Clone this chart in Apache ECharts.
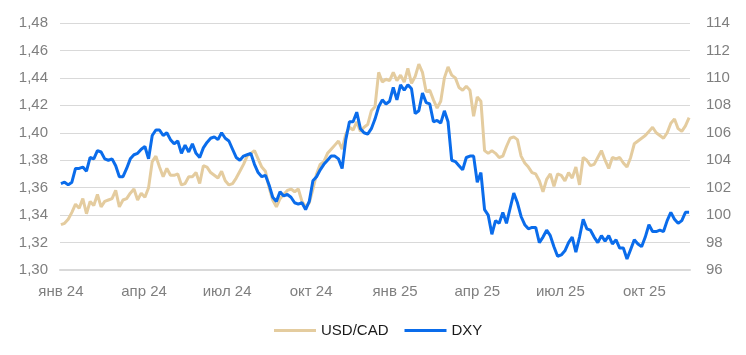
<!DOCTYPE html>
<html><head><meta charset="utf-8">
<script src="https://cdn.jsdelivr.net/npm/echarts@6/dist/echarts.min.js"></script>
<style>html,body{margin:0;padding:0;background:#fff}#c{width:746px;height:355px}</style>
</head><body><div id="c"></div>
<script>
// Observations every 4 days starting 2024-01-01
const seriesStart = [2024, 0, 1];
const stepDays = 4;
const monthNames = ['янв','фев','мар','апр','май','июн','июл','авг','сен','окт','ноя','дек'];
const quarterLabels = ['2024-01-01','2024-04-01','2024-07-01','2024-10-01','2025-01-01','2025-04-01','2025-07-01','2025-10-01'];
const leftTicks = {min: 1.30, max: 1.48, step: 0.02};
const rightTicks = {min: 96, max: 114, step: 2};

const usdcad = [
1.333,1.334,1.337,1.342,1.348,1.345,1.352,1.341,1.350,1.347,
1.355,1.346,1.350,1.351,1.352,1.358,1.346,1.351,1.352,1.356,
1.359,1.351,1.356,1.353,1.360,1.379,1.383,1.375,1.368,1.374,
1.369,1.369,1.370,1.362,1.363,1.368,1.368,1.371,1.363,1.376,
1.375,1.371,1.369,1.367,1.372,1.365,1.362,1.363,1.367,1.372,
1.377,1.383,1.385,1.387,1.381,1.375,1.372,1.360,1.351,1.346,
1.352,1.355,1.358,1.359,1.357,1.359,1.350,1.346,1.349,1.359,
1.370,1.377,1.379,1.385,1.388,1.391,1.394,1.388,1.399,1.404,
1.402,1.408,1.401,1.404,1.406,1.416,1.419,1.444,1.437,1.439,
1.438,1.444,1.438,1.442,1.437,1.447,1.436,1.441,1.450,1.444,
1.430,1.431,1.424,1.418,1.423,1.440,1.448,1.442,1.440,1.433,
1.431,1.434,1.431,1.412,1.426,1.423,1.387,1.385,1.387,1.385,
1.382,1.383,1.390,1.396,1.397,1.395,1.383,1.378,1.375,1.371,
1.370,1.365,1.357,1.366,1.370,1.361,1.370,1.369,1.365,1.371,
1.367,1.375,1.362,1.382,1.380,1.376,1.377,1.382,1.387,1.380,
1.374,1.382,1.381,1.382,1.378,1.375,1.382,1.392,1.394,1.396,
1.398,1.401,1.404,1.400,1.398,1.396,1.400,1.407,1.410,1.403,
1.401,1.405,1.411
];
const dxy = [
102.3,102.4,102.2,102.4,103.4,103.4,103.5,103.2,104.2,104.1,
104.7,104.6,104.1,104.0,104.1,103.6,102.8,102.8,103.4,104.1,
104.4,104.5,104.8,105.0,104.1,105.8,106.2,106.2,105.8,106.0,
105.5,105.2,105.4,104.5,105.1,104.6,105.2,104.5,104.2,104.9,
105.3,105.6,105.7,105.5,106.0,105.6,105.4,104.8,104.2,104.0,
104.3,104.4,104.5,103.7,103.1,102.8,102.9,102.2,101.3,101.0,
101.7,101.4,101.5,101.3,100.9,100.8,100.9,100.4,101.0,102.5,
102.8,103.3,103.7,104.0,104.3,104.3,104.1,103.4,105.5,106.8,
106.8,107.5,106.3,106.0,105.9,106.3,107.0,107.9,108.4,108.1,
108.3,109.3,108.4,109.5,109.1,109.5,109.2,107.4,107.6,108.9,
108.2,108.1,106.8,106.9,106.7,107.6,106.8,104.0,103.9,103.6,
103.3,104.2,104.3,104.3,102.4,103.1,100.4,100.0,98.6,99.6,
99.4,100.2,99.4,100.5,101.6,100.9,99.9,99.3,99.0,99.1,
99.1,98.0,98.4,98.9,98.5,97.7,97.0,97.1,97.4,98.0,
98.4,97.3,98.4,99.7,99.0,98.9,98.4,98.0,98.5,98.1,
98.5,97.9,98.2,97.6,97.6,96.8,97.5,98.2,97.9,97.7,
98.4,99.3,98.8,98.8,98.9,98.8,99.6,100.2,99.7,99.4,
99.6,100.2,100.2
];

function dateAt(i) {
  return new Date(seriesStart[0], seriesStart[1], seriesStart[2] + i * stepDays).getTime();
}
function parseD(s) { const p = s.split('-').map(Number); return new Date(p[0], p[1]-1, p[2]).getTime(); }
const cadData = usdcad.map((v, i) => [dateAt(i), v]);
const dxyData = dxy.map((v, i) => [dateAt(i), v]);
const labelVals = quarterLabels.map(parseD);

const FONT = '"Liberation Sans", Arial, sans-serif';
const chart = echarts.init(document.getElementById('c'), null, {renderer: 'canvas'});
chart.setOption({
  animation: false,
  grid: {left: 60, right: 56, top: 23, bottom: 85, containLabel: false},
  legend: {
    top: 318, left: 269, icon: 'rect', itemWidth: 42, itemHeight: 3, itemGap: 16,
    textStyle: {fontFamily: FONT, fontSize: 15, color: '#1a1a1a'},
    data: ['USD/CAD', 'DXY']
  },
  xAxis: {
    type: 'value',
    min: new Date(2023, 11, 31).getTime(),
    max: new Date(2025, 10, 20).getTime(),
    axisLine: {show: true, onZero: false, lineStyle: {color: '#D9D9D9', width: 2}},
    axisTick: {show: false},
    splitLine: {show: false},
    axisLabel: {
      customValues: labelVals,
      margin: 14,
      color: '#7F7F7F', fontFamily: FONT, fontSize: 15,
      formatter: function (v) { const d = new Date(v); return monthNames[d.getMonth()] + ' ' + String(d.getFullYear()).slice(2); }
    }
  },
  yAxis: [{
    type: 'value', min: leftTicks.min, max: leftTicks.max, interval: leftTicks.step,
    axisLine: {show: false}, axisTick: {show: false},
    splitLine: {lineStyle: {color: '#D9D9D9', width: 1}},
    axisLabel: {margin: 12, color: '#7F7F7F', fontFamily: FONT, fontSize: 15,
      formatter: v => v.toFixed(2).replace('.', ',')}
  }, {
    type: 'value', min: rightTicks.min, max: rightTicks.max, interval: rightTicks.step,
    axisLine: {show: false}, axisTick: {show: false},
    splitLine: {show: false},
    axisLabel: {margin: 16, color: '#7F7F7F', fontFamily: FONT, fontSize: 15,
      formatter: v => String(v)}
  }],
  series: [{
    name: 'USD/CAD', type: 'line', yAxisIndex: 0, data: cadData,
    showSymbol: false, symbol: 'none',
    lineStyle: {color: '#E4CC9F', width: 3}, itemStyle: {color: '#E4CC9F'}
  }, {
    name: 'DXY', type: 'line', yAxisIndex: 1, data: dxyData,
    showSymbol: false, symbol: 'none',
    lineStyle: {color: '#0A6CEB', width: 3}, itemStyle: {color: '#0A6CEB'}
  }]
});
</script>
</body></html>
